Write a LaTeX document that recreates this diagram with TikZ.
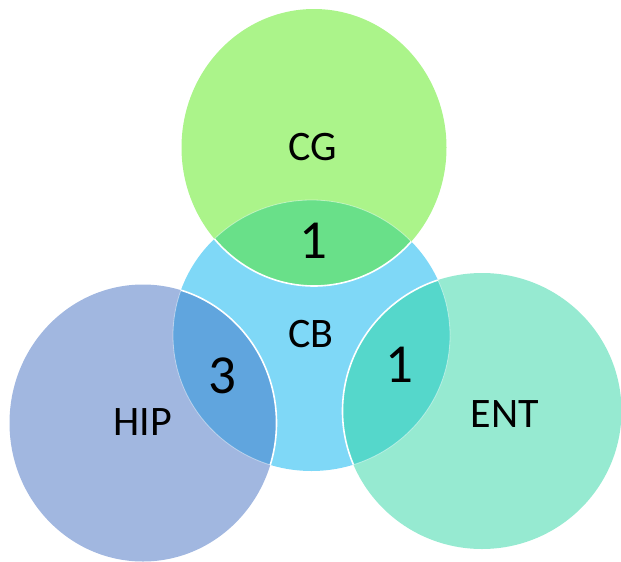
\documentclass[tikz,border=0pt]{standalone}
\usepackage{fontspec}
\setmainfont{Carlito}
\definecolor{cgcol}{HTML}{ABF48A}
\definecolor{cgcb}{HTML}{69E089}
\definecolor{cbcol}{HTML}{7FD8F7}
\definecolor{hipcol}{HTML}{A1B7E0}
\definecolor{hipcb}{HTML}{60A5DE}
\definecolor{entcol}{HTML}{96EAD1}
\definecolor{entcb}{HTML}{55D7CB}
\tikzset{
  lbl/.style={font=\fontsize{42}{50}\selectfont, text=black, inner sep=0pt},
  num/.style={font=\fontsize{55}{60}\selectfont, text=black, inner sep=0pt},
  rim/.style={draw=white, line width=1.6pt},
  faint/.style={draw=white, draw opacity=0.45, line width=0.8pt}
}
\begin{document}
\begin{tikzpicture}[x=1pt,y=-1pt]
\useasboundingbox (0,0) rectangle (621,562);
\coordinate (cb) at (311.5,335.5);
\coordinate (cg) at (314,147.5);
\coordinate (hip) at (143,423);
\coordinate (ent) at (482,411);
\def\CBpath{(cb) ellipse [x radius=138.5pt, y radius=135.5pt]}
\def\CGpath{(cg) ellipse [x radius=132.5pt, y radius=138.5pt]}
\def\HIPpath{(hip) ellipse [x radius=133.5pt, y radius=138.5pt]}
\def\ENTpath{(ent) ellipse [x radius=139.5pt, y radius=138pt]}
% base fills
\fill[cbcol] \CBpath;
\fill[cgcol] \CGpath;
\fill[hipcol] \HIPpath;
\fill[entcol] \ENTpath;
% lenses
\begin{scope}
  \clip \CBpath;
  \fill[cgcb] \CGpath;
  \fill[hipcb] \HIPpath;
  \fill[entcb] \ENTpath;
  \draw[rim] \CGpath;
  \draw[rim] \HIPpath;
  \draw[rim] \ENTpath;
\end{scope}
% faint CB arcs inside outer circles
\begin{scope}
  \clip \CGpath;
  \draw[faint] \CBpath;
\end{scope}
\begin{scope}
  \clip \HIPpath;
  \draw[faint] \CBpath;
\end{scope}
\begin{scope}
  \clip \ENTpath;
  \draw[faint] \CBpath;
\end{scope}
% labels
\node[lbl] (tcg) at (313,147) {CG};
\node[lbl] (tcb) at (311,334) {CB};
\node[lbl] (thip) at (143,422) {HIP};
\node[lbl] (tent) at (505,414) {ENT};
\node[num] (ncg) at (313,241) {1};
\node[num] (nhip) at (222,376) {3};
\node[num] (nent) at (399,365) {1};
\end{tikzpicture}
\end{document}
